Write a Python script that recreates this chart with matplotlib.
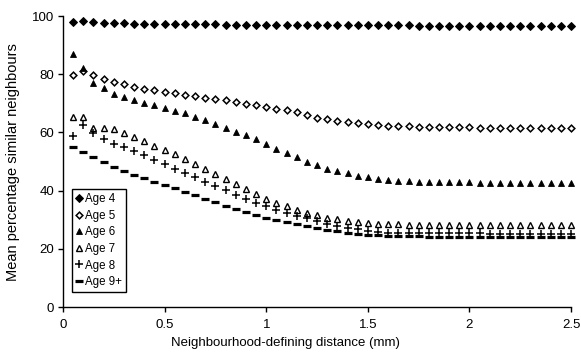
import numpy as np
import matplotlib
matplotlib.use("Agg")
import matplotlib.pyplot as plt

plt.rcParams['font.family'] = ['Liberation Sans', 'DejaVu Sans']

distance = [round(0.05 * i, 2) for i in range(1, 51)]

age4 = [98.0, 98.3, 98.1, 97.7, 97.5, 97.5, 97.4, 97.4, 97.4, 97.3,
        97.3, 97.3, 97.2, 97.2, 97.2, 97.1, 97.1, 97.1, 97.1, 97.0,
        97.0, 97.0, 97.0, 96.9, 96.9, 96.9, 96.9, 96.9, 96.8, 96.8,
        96.8, 96.8, 96.8, 96.8, 96.7, 96.7, 96.7, 96.7, 96.7, 96.7,
        96.7, 96.6, 96.6, 96.6, 96.6, 96.6, 96.6, 96.6, 96.6, 96.6]

age5 = [79.7, 81.1, 79.7, 78.4, 77.3, 76.5, 75.7, 75.0, 74.5, 74.0,
        73.4, 73.0, 72.4, 71.9, 71.5, 71.0, 70.4, 69.9, 69.3, 68.7,
        68.1, 67.6, 66.9, 65.9, 64.9, 64.5, 64.0, 63.6, 63.2, 62.8,
        62.5, 62.3, 62.2, 62.1, 62.0, 61.9, 61.9, 61.8, 61.8, 61.8,
        61.7, 61.7, 61.7, 61.7, 61.6, 61.6, 61.6, 61.6, 61.6, 61.6]

age6 = [87.0, 82.0, 77.0, 75.3, 73.2, 72.3, 71.1, 70.2, 69.3, 68.3,
        67.4, 66.6, 65.4, 64.3, 62.9, 61.7, 60.2, 59.1, 57.6, 55.9,
        54.3, 52.8, 51.5, 50.0, 48.8, 47.6, 46.7, 45.9, 45.1, 44.6,
        44.1, 43.8, 43.4, 43.2, 43.0, 42.9, 42.9, 42.8, 42.8, 42.8,
        42.7, 42.7, 42.7, 42.7, 42.6, 42.6, 42.6, 42.6, 42.6, 42.6]

age7 = [65.4, 65.4, 61.6, 61.6, 61.2, 59.7, 58.5, 57.2, 55.4, 53.8,
        52.6, 50.9, 49.1, 47.3, 45.7, 43.9, 42.2, 40.4, 38.7, 37.2,
        35.8, 34.7, 33.3, 32.3, 31.5, 30.7, 30.1, 29.7, 29.2, 29.0,
        28.7, 28.5, 28.4, 28.3, 28.3, 28.2, 28.2, 28.2, 28.2, 28.1,
        28.1, 28.1, 28.1, 28.1, 28.1, 28.1, 28.1, 28.1, 28.1, 28.1]

age8 = [58.8, 62.5, 59.7, 57.6, 56.2, 55.1, 53.6, 52.2, 50.5, 49.0,
        47.6, 46.1, 44.7, 43.1, 41.6, 40.2, 38.5, 37.0, 35.8, 34.7,
        33.3, 32.2, 31.4, 30.7, 29.7, 28.5, 27.8, 27.3, 26.7, 26.2,
        25.9, 25.6, 25.5, 25.4, 25.4, 25.3, 25.3, 25.3, 25.3, 25.3,
        25.3, 25.2, 25.2, 25.2, 25.2, 25.2, 25.2, 25.2, 25.2, 25.2]

age9 = [55.1, 53.2, 51.5, 49.8, 48.2, 46.8, 45.5, 44.3, 43.1, 41.9,
        40.8, 39.6, 38.5, 37.1, 36.0, 34.7, 33.6, 32.5, 31.6, 30.7,
        29.9, 29.1, 28.5, 27.8, 27.3, 26.6, 26.1, 25.6, 25.2, 24.9,
        24.7, 24.5, 24.4, 24.3, 24.3, 24.2, 24.2, 24.2, 24.2, 24.2,
        24.2, 24.2, 24.2, 24.2, 24.2, 24.2, 24.2, 24.2, 24.2, 24.2]

labels = ["Age 4", "Age 5", "Age 6", "Age 7", "Age 8", "Age 9+"]
xticks = [0, 0.5, 1, 1.5, 2, 2.5]
xticklabels = ["0", "0.5", "1", "1.5", "2", "2.5"]
yticks = [0, 20, 40, 60, 80, 100]

fig = plt.figure(figsize=(5.81, 3.57), dpi=100)
ax = fig.add_axes([0.1084, 0.140, 0.8746, 0.815])

styles = [
    dict(marker='D', ms=3.7, mfc='black', mec='black', mew=0.7),
    dict(marker='D', ms=3.4, mfc='white', mec='black', mew=1.1),
    dict(marker='^', ms=4.9, mfc='black', mec='black', mew=0.6),
    dict(marker='^', ms=4.6, mfc='white', mec='black', mew=1.0),
    dict(marker='+', ms=5.6, mfc='black', mec='black', mew=1.1),
    dict(marker='_', ms=5.2, mfc='black', mec='black', mew=2.3),
]
for ys, lab, st in zip([age4, age5, age6, age7, age8, age9], labels, styles):
    ax.plot(distance, ys, linestyle='none', label=lab, clip_on=False, **st)

ax.set_xlim(0, 2.5)
ax.set_ylim(0, 100)
ax.set_xticks(xticks)
ax.set_xticklabels(xticklabels)
ax.set_yticks(yticks)
for s in ['top', 'right']:
    ax.spines[s].set_visible(False)
for s in ['left', 'bottom']:
    ax.spines[s].set_linewidth(1.0)
    ax.spines[s].set_color('black')
ax.tick_params(axis='both', labelsize=9.5, colors='black', length=3.5, width=1.0,
               direction='out')
ax.tick_params(axis='x', pad=5)
ax.tick_params(axis='y', pad=3)
ax.set_xlabel("Neighbourhood-defining distance (mm)", fontsize=9.5)
ax.set_ylabel("Mean percentage similar neighbours", fontsize=10.5)
ax.xaxis.set_label_coords(0.438, -0.103)
ax.yaxis.set_label_coords(-0.085, 0.497)

leg = ax.legend(loc='upper left', bbox_to_anchor=(0.0177, 0.4055), frameon=True,
                fancybox=False, edgecolor='black', fontsize=8.3, handlelength=0.6,
                handletextpad=0.2, labelspacing=0.4, borderpad=0.35,
                borderaxespad=0, framealpha=1, markerscale=1.0)
leg.get_frame().set_linewidth(1.0)

fig.savefig("out.png", dpi=100)
